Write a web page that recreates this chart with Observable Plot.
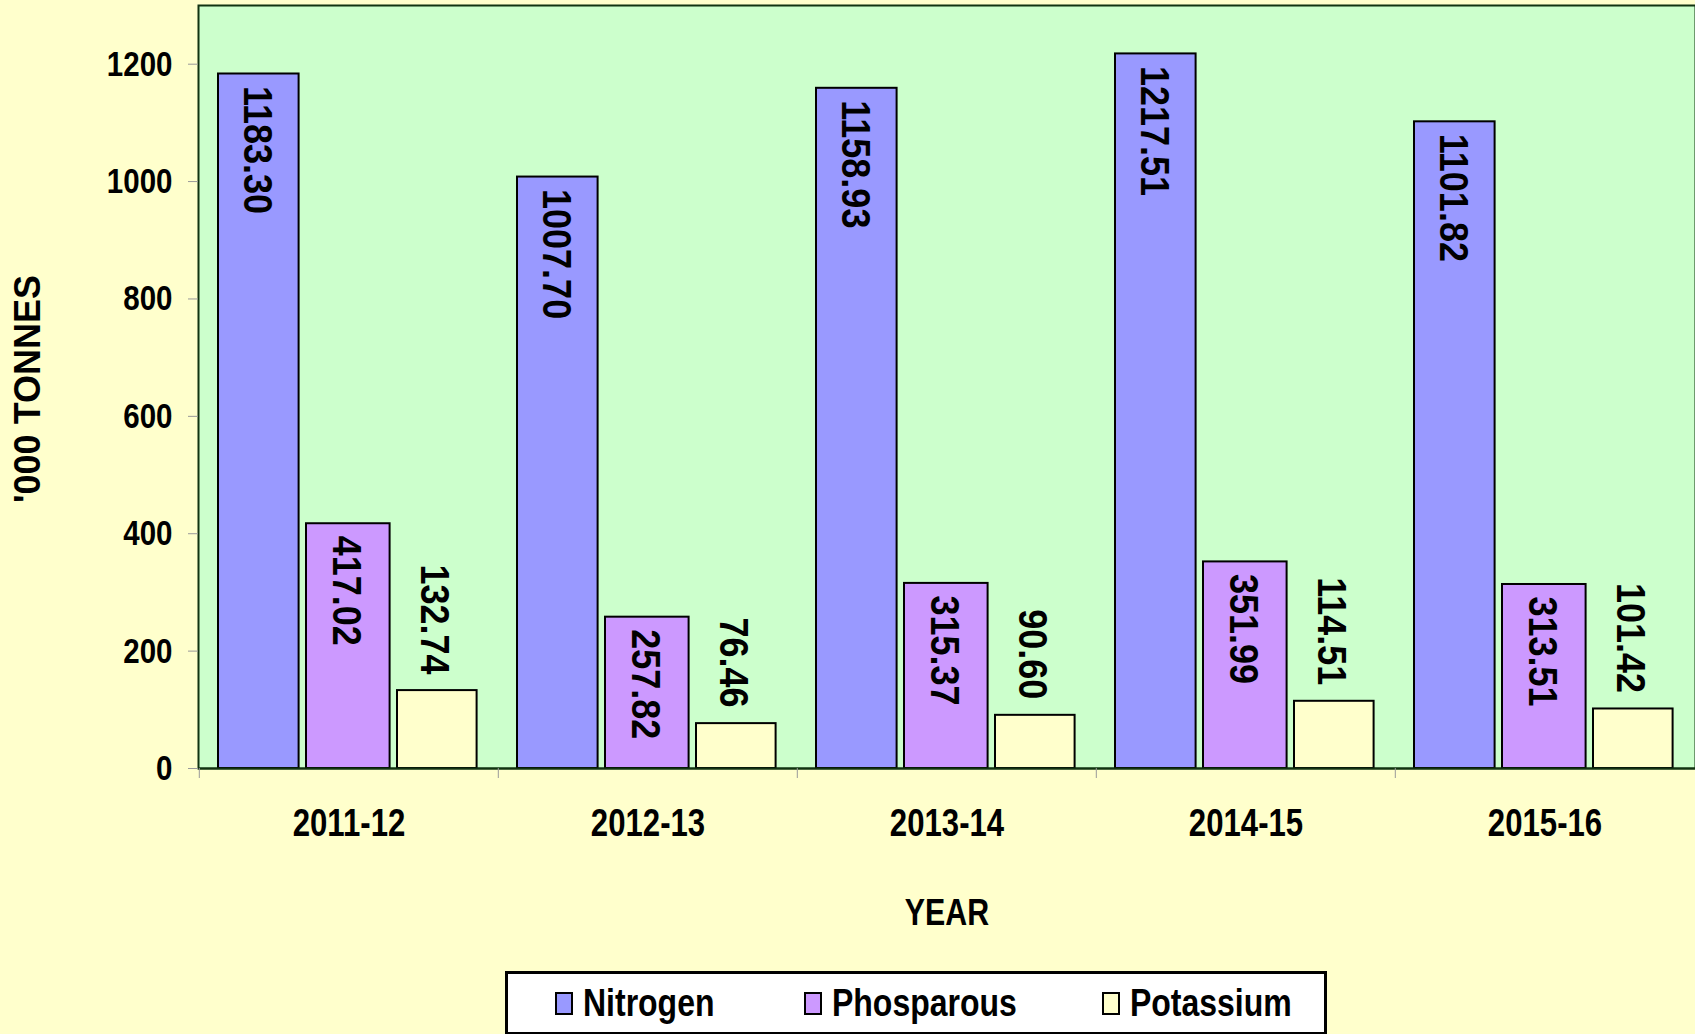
<!DOCTYPE html>
<html>
<head>
<meta charset="utf-8">
<script src="https://cdn.jsdelivr.net/npm/d3@7"></script>
<script src="https://cdn.jsdelivr.net/npm/@observablehq/plot@0.6"></script>
<style>
  html, body { margin: 0; padding: 0; background: #FFFFCC; }
  #chart { width: 1695px; height: 1034px; position: relative; overflow: hidden; }
  #legend {
    position: absolute; left: 505px; top: 971px; width: 816px; height: 58px;
    border: 3px solid #000; background: #FFFFFF; box-sizing: content-box;
    font-family: "Liberation Sans", Arial, sans-serif;
    font-weight: bold; font-size: 39px; color: #000;
  }
  .item { position: absolute; top: 0; height: 58px; display: flex; align-items: center; white-space: nowrap; }
  .sw { width: 14px; height: 19px; border: 2px solid #000; margin-right: 10px; flex: none; }
  .lt { display: inline-block; transform: scaleX(0.82); transform-origin: left center; }
</style>
</head>
<body>
<div id="chart"></div>
<script>
const years = ["2011-12", "2012-13", "2013-14", "2014-15", "2015-16"];
const series = ["Nitrogen", "Phosparous", "Potassium"];
const nitrogen = [1183.30, 1007.70, 1158.93, 1217.51, 1101.82];
const phosphorus = [417.02, 257.82, 315.37, 351.99, 313.51];
const potassium = [132.74, 76.46, 90.60, 114.51, 101.42];
const yTicks = [0, 200, 400, 600, 800, 1000, 1200];
const colors = ["#9999FF", "#CC99FF", "#FFFFCC"];

const valuesBySeries = [nitrogen, phosphorus, potassium];
const rows = years.flatMap((yr, i) => series.map((s, j) => ({year: yr, series: s, value: valuesBySeries[j][i]})));

// styling per series (bar placement within each year band, label placement)
const W = 1695, H = 962, ML = 198, MR = 0, MT = 5, MB = 194;
const band = (W - ML - MR) / years.length;
const seriesStyle = [
  {insetLeft: 19, insetRight: band - 100, dx: -92, inside: true},
  {insetLeft: 107, insetRight: band - 191, dx: -3, inside: true},
  {insetLeft: 198, insetRight: band - 278, dx: 85, inside: false}
];

const font = "'Liberation Sans', Arial, sans-serif";

const marks = [
  Plot.frame({fill: "#CCFFCC", stroke: "#113311", strokeWidth: 2})
];
series.forEach((s, j) => {
  const st = seriesStyle[j];
  const data = rows.filter(d => d.series === s);
  marks.push(Plot.barY(data, {
    x: "year", y: "value", fill: colors[j], stroke: "#000", strokeWidth: 2,
    insetLeft: st.insetLeft, insetRight: st.insetRight
  }));
});
series.forEach((s, j) => {
  const st = seriesStyle[j];
  const data = rows.filter(d => d.series === s);
  marks.push(Plot.text(data, {
    x: "year", y: "value", text: d => d3.format(".2f")(d.value),
    rotate: 90, textAnchor: st.inside ? "start" : "end", lineAnchor: "middle",
    dx: st.dx, dy: st.inside ? 12 : -16, ariaLabel: () => "bar-label",
    fontSize: 36, fontFamily: font, fontWeight: "bold", fill: "#000"
  }));
});
marks.push(
  Plot.ruleY([0], {stroke: "#113311", strokeWidth: 2}),
  Plot.axisY({ticks: yTicks, tickSize: 10, tickPadding: 16, tickFormat: d3.format("d"),
    fontSize: 36, fontFamily: font, fontWeight: "bold", stroke: "#999", fill: "#000", label: null}),
  Plot.axisX({tickSize: 0, tickPadding: 41, fontSize: 38, fontFamily: font, fontWeight: "bold",
    fill: "#000", label: null}),
  Plot.axisX({tickSize: 10, tickFormat: () => "", dx: -band / 2, stroke: "#999", label: null}),
  Plot.text(["'000 TONNES"], {text: d => d, frameAnchor: "left", textAnchor: "middle", lineAnchor: "middle",
    dx: -170, dy: 2, rotate: -90,
    fontSize: 36, fontFamily: font, fontWeight: "bold", fill: "#000"}),
  Plot.text(["YEAR"], {text: d => d, frameAnchor: "bottom", textAnchor: "middle", lineAnchor: "middle",
    dy: 145, ariaLabel: () => "year-title",
    fontSize: 37, fontFamily: font, fontWeight: "bold", fill: "#000"})
);

const chart = Plot.plot({
  width: W, height: H,
  marginLeft: ML, marginRight: MR, marginTop: MT, marginBottom: MB,
  x: {domain: years, padding: 0},
  y: {domain: [0, 1300]},
  style: {background: "transparent", fontFamily: font, overflow: "visible"},
  marks
});

// emulate the condensed (narrow) typeface of the original and the stretched bar labels
function addScale(sel, sx, sy) {
  chart.querySelectorAll(sel).forEach(t => {
    let tr = t.getAttribute("transform");
    if (!tr) {
      const x = +(t.getAttribute("x") || 0), y = +(t.getAttribute("y") || 0);
      t.removeAttribute("x"); t.removeAttribute("y");
      tr = `translate(${x},${y})`;
    }
    t.setAttribute("transform", `${tr} scale(${sx},${sy})`);
  });
}
addScale('[aria-label="y-axis tick label"] text', 0.82, 1);
addScale('[aria-label="x-axis tick label"] text', 0.82, 1);
addScale('text[aria-label="year-title"]', 0.82, 1);
addScale('text[aria-label="bar-label"]', 1, 1.15);

const root = document.getElementById("chart");
root.appendChild(chart);

// legend
const legend = document.createElement("div");
legend.id = "legend";
const offsets = [47, 296, 594];
series.forEach((s, j) => {
  const item = document.createElement("div");
  item.className = "item";
  item.style.left = offsets[j] + "px";
  const sw = document.createElement("div");
  sw.className = "sw";
  sw.style.background = colors[j];
  const lt = document.createElement("span");
  lt.className = "lt";
  lt.textContent = s;
  item.appendChild(sw);
  item.appendChild(lt);
  legend.appendChild(item);
});
root.appendChild(legend);
</script>
</body>
</html>
